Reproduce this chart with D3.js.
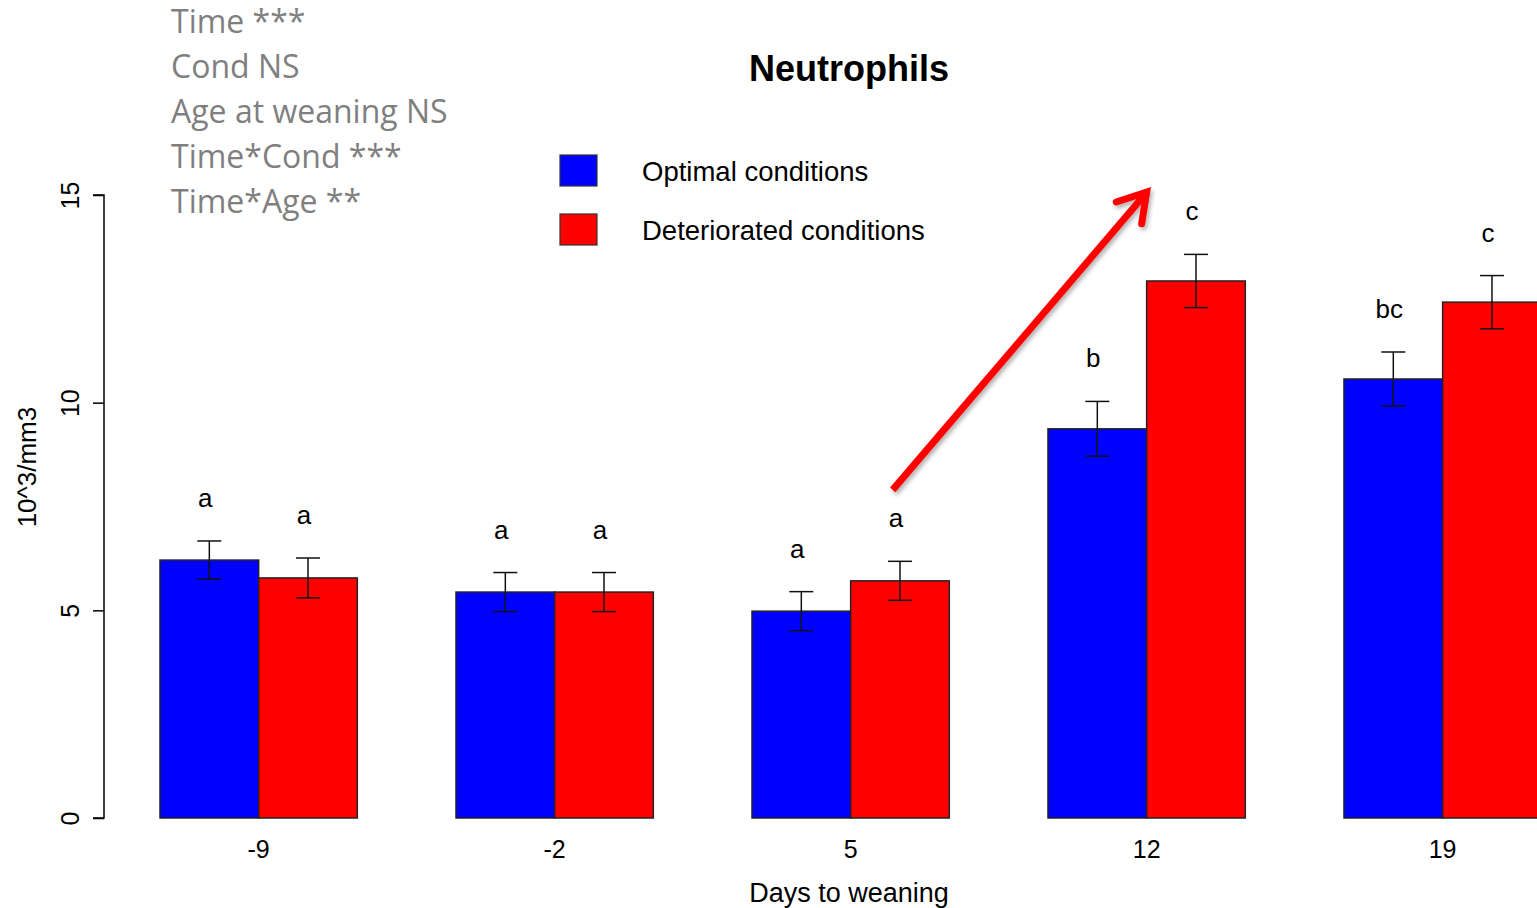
<!DOCTYPE html>
<html>
<head>
<meta charset="utf-8">
<script src="https://cdn.jsdelivr.net/npm/d3@7"></script>
<style>
  html, body { margin: 0; padding: 0; background: #fff; }
  svg { display: block; font-family: "Liberation Sans", Arial, sans-serif; }
</style>
</head>
<body>
<svg id="chart" width="1537" height="908"></svg>
<script>
// Days to weaning (sampling times)
const days = ["-9", "-2", "5", "12", "19"];
const seriesNames = ["Optimal conditions", "Deteriorated conditions"];
const seriesColors = ["#0000ff", "#ff0000"];

// Mean neutrophil counts (10^3/mm3) and standard errors
const optimalMeans = [6.21, 5.44, 4.98, 9.37, 10.57];
const optimalSE = [0.46, 0.47, 0.47, 0.66, 0.65];
const deterioratedMeans = [5.78, 5.44, 5.71, 12.93, 12.42];
const deterioratedSE = [0.48, 0.47, 0.47, 0.64, 0.64];

// Post-hoc group letters
const optimalLetters = ["a", "a", "a", "b", "bc"];
const deterioratedLetters = ["a", "a", "a", "c", "c"];

// Statistical summary lines
const statsLines = ["Time ***", "Cond NS", "Age at weaning NS", "Time*Cond ***", "Time*Age **"];

const yTicks = [0, 5, 10, 15];

const svg = d3.select("#chart");

const x0 = d3.scaleBand().domain(days).range([160, 1541.3]).paddingInner(1 / 3).paddingOuter(0);
const x1 = d3.scaleBand().domain([0, 1]).range([0, x0.bandwidth()]);
const y = d3.scaleLinear().domain([0, 15]).range([818, 195]);

const rows = days.map((d, i) => ({
  day: d,
  bars: [
    { s: 0, v: optimalMeans[i], se: optimalSE[i], letter: optimalLetters[i] },
    { s: 1, v: deterioratedMeans[i], se: deterioratedSE[i], letter: deterioratedLetters[i] }
  ]
}));

// drop shadow for the trend arrow
const defs = svg.append("defs");
const f = defs.append("filter").attr("id", "shadow").attr("x", "-20%").attr("y", "-20%").attr("width", "140%").attr("height", "140%");
f.append("feDropShadow").attr("dx", 2).attr("dy", 3).attr("stdDeviation", 2)
  .attr("flood-color", "#000").attr("flood-opacity", 0.3);

// Bars
const groups = svg.append("g").selectAll("g").data(rows).join("g")
  .attr("transform", d => `translate(${x0(d.day)},0)`);

groups.selectAll("rect").data(d => d.bars).join("rect")
  .attr("x", d => x1(d.s))
  .attr("y", d => y(d.v))
  .attr("width", x1.bandwidth())
  .attr("height", d => y(0) - y(d.v))
  .attr("fill", d => seriesColors[d.s])
  .attr("stroke", "#222")
  .attr("stroke-width", 1.5);

// Error bars
const capHalf = 12;
const cx = d => x1(d.s) + x1.bandwidth() / 2;
const eb = groups.selectAll("g.err").data(d => d.bars).join("g").attr("class", "err")
  .attr("stroke", "#111").attr("stroke-width", 1.5);
eb.append("line")
  .attr("x1", cx).attr("x2", cx)
  .attr("y1", d => y(d.v + d.se)).attr("y2", d => y(d.v - d.se));
eb.append("line")
  .attr("x1", d => cx(d) - capHalf).attr("x2", d => cx(d) + capHalf)
  .attr("y1", d => y(d.v + d.se)).attr("y2", d => y(d.v + d.se));
eb.append("line")
  .attr("x1", d => cx(d) - capHalf).attr("x2", d => cx(d) + capHalf)
  .attr("y1", d => y(d.v - d.se)).attr("y2", d => y(d.v - d.se));

// Letters above error bars
groups.selectAll("text.letter").data(d => d.bars).join("text").attr("class", "letter")
  .attr("x", d => cx(d) - 4)
  .attr("y", d => y(d.v + d.se) - 34)
  .attr("text-anchor", "middle")
  .attr("font-size", 26)
  .attr("fill", "#000")
  .text(d => d.letter);

// Y axis with rotated tick labels
const yAxis = d3.axisLeft(y).tickValues(yTicks).tickSize(11).tickPadding(4);
const gy = svg.append("g").attr("transform", "translate(104,0)").call(yAxis);
gy.select(".domain").attr("stroke", "#000").attr("stroke-width", 1.5).attr("d", `M-11,${y(15)}H0V${y(0)}H-11`);
gy.selectAll(".tick line").attr("stroke", "#000").attr("stroke-width", 1.5);
gy.selectAll(".tick text")
  .attr("font-size", 25)
  .attr("font-family", null)
  .attr("fill", "#000")
  .attr("text-anchor", "middle")
  .attr("transform", "translate(-34,0) rotate(-90)")
  .attr("x", 0).attr("y", 0).attr("dy", "0.35em");

// X axis labels (no axis line)
svg.append("g").selectAll("text").data(days).join("text")
  .attr("x", d => x0(d) + x0.bandwidth() / 2)
  .attr("y", 858)
  .attr("text-anchor", "middle")
  .attr("font-size", 25)
  .text(d => d);

// Axis titles
svg.append("text").attr("x", 849).attr("y", 902).attr("text-anchor", "middle")
  .attr("font-size", 27).text("Days to weaning");
svg.append("text").attr("transform", `translate(36,${y(8.45)}) rotate(-90)`)
  .attr("text-anchor", "middle").attr("font-size", 26).text("10^3/mm3");

// Title
svg.append("text").attr("x", 849).attr("y", 81).attr("text-anchor", "middle")
  .attr("font-size", 36).attr("font-weight", "bold").text("Neutrophils");

// Legend
const legend = svg.append("g").selectAll("g").data(seriesNames).join("g")
  .attr("transform", (d, i) => `translate(560,${155 + i * 59})`);
legend.append("rect").attr("width", 37).attr("height", 31)
  .attr("fill", (d, i) => seriesColors[i]).attr("stroke", "#333").attr("stroke-width", 1.2);
legend.append("text").attr("x", 82).attr("y", 26).attr("font-size", 27.5).text(d => d);

// Statistical summary
svg.append("g").selectAll("text").data(statsLines).join("text")
  .attr("x", 171).attr("y", (d, i) => 33 + i * 45)
  .style("font-family", "'Open Sans', sans-serif")
  .attr("font-size", 32)
  .attr("fill", "#7f7f7f")
  .text(d => d);

// Trend arrow from day 5 towards day 12
const ax0 = x0("5") + x1(1) + 42, ay0 = y(7.9);
const ax1 = x0("12") + x1(1), ay1 = y(15.07);
const arrow = svg.append("g").attr("filter", "url(#shadow)")
  .attr("stroke", "#ff0000").attr("stroke-width", 7).attr("fill", "none");
arrow.append("line").attr("x1", ax0).attr("y1", ay0).attr("x2", ax1 - 3).attr("y2", ay1 + 4);
const ang = Math.atan2(ay1 - ay0, ax1 - ax0);
const headLen = 32, spread = 0.55;
arrow.append("path")
  .attr("stroke-linecap", "round").attr("stroke-linejoin", "miter")
  .attr("d", `M${ax1 - headLen * Math.cos(ang - spread)},${ay1 - headLen * Math.sin(ang - spread)}` +
    `L${ax1},${ay1}` +
    `L${ax1 - headLen * Math.cos(ang + spread)},${ay1 - headLen * Math.sin(ang + spread)}`);
</script>
</body>
</html>
